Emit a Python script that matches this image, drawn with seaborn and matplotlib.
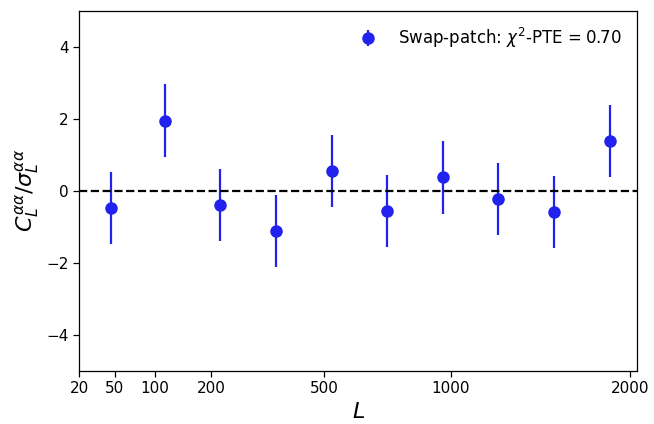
import numpy as np
import matplotlib
matplotlib.use('Agg')
import matplotlib.pyplot as plt
import seaborn as sns

# Bin centres in L and normalised spectrum (error bars are 1 sigma)
ell = [46, 116, 219, 355, 526, 728, 965, 1232, 1534, 1872]
cl_norm = [-0.47, 1.95, -0.39, -1.12, 0.55, -0.55, 0.37, -0.23, -0.60, 1.38]
cl_err = [1.0, 1.0, 1.0, 1.0, 1.0, 1.0, 1.0, 1.0, 1.0, 1.0]
xticks = [20, 50, 100, 200, 500, 1000, 2000]
label = r'Swap-patch: $\chi^2$-PTE$\,=0.70$'

sns.set_theme(style='ticks', rc={'text.color': 'black', 'axes.labelcolor': 'black',
                                 'xtick.color': 'black', 'ytick.color': 'black',
                                 'axes.edgecolor': 'black'})
plt.rcParams['font.family'] = ['DejaVu Sans']

fig, ax = plt.subplots(figsize=(6.54, 4.24), dpi=100)
fig.subplots_adjust(left=0.121, right=0.974, top=0.975, bottom=0.125)

ax.errorbar(ell, cl_norm, yerr=cl_err, fmt='o', color='#2222ee', ms=8,
            elinewidth=1.6, capsize=0, label=label)
ax.axhline(0, color='black', ls='--', lw=1.6)

# x axis is on a square-root scale
ax.set_xscale('function', functions=(np.sqrt, np.square))
ax.set_xlim(20, 2048)
ax.set_xticks(xticks)
ax.set_xticklabels([str(t) for t in xticks])
ax.set_ylim(-5, 5)
ax.set_yticks([-4, -2, 0, 2, 4])
ax.tick_params(labelsize=11, length=4, width=0.9)
for s in ax.spines.values():
    s.set_visible(True)
    s.set_linewidth(0.9)

ax.set_xlabel(r'$L$', fontsize=16)
ax.set_ylabel(r'$C_L^{\alpha\alpha}/\sigma_L^{\alpha\alpha}$', fontsize=16)
ax.legend(loc='upper right', frameon=False, fontsize=12)

plt.savefig('out.png', dpi=100)
